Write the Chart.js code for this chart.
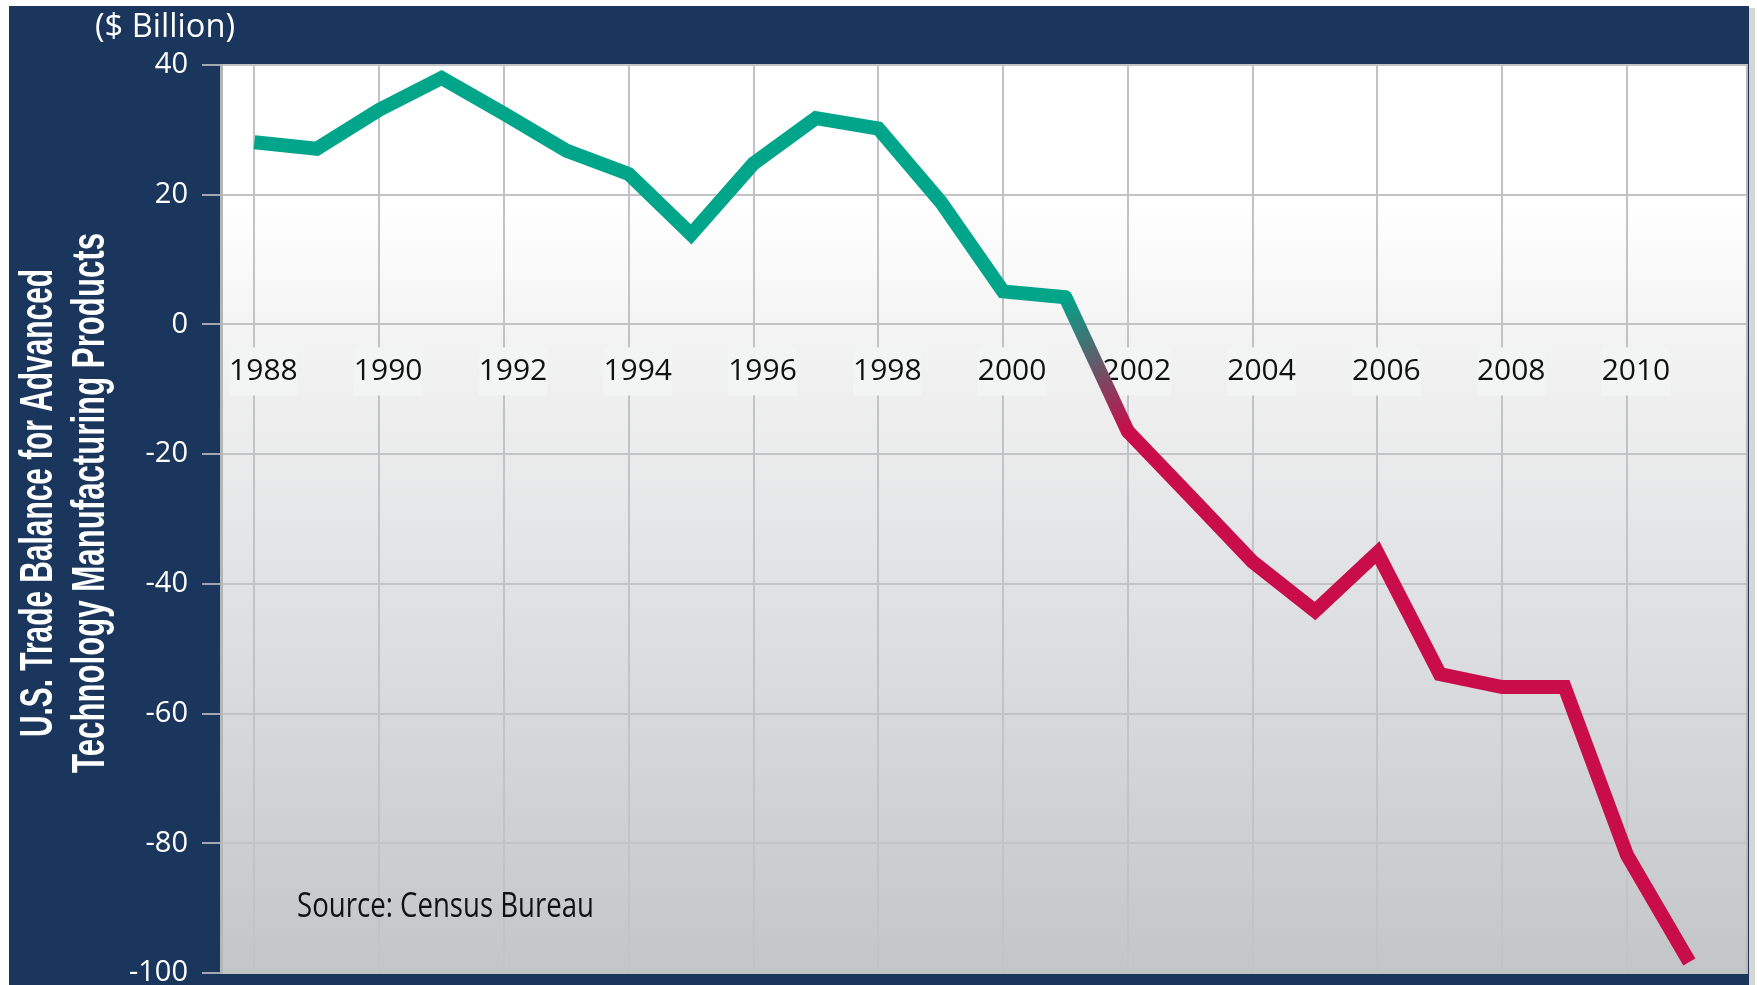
<!DOCTYPE html>
<html>
<head>
<meta charset="utf-8">
<script src="https://cdn.jsdelivr.net/npm/chart.js@4"></script>
<style>
  html, body { margin: 0; padding: 0; background: #ffffff; }
  #wrap { width: 1757px; height: 985px; position: relative; }
</style>
</head>
<body>
<div id="wrap"><canvas id="chart"></canvas></div>
<script>
// Data
const years = [1988, 1989, 1990, 1991, 1992, 1993, 1994, 1995, 1996, 1997, 1998, 1999,
               2000, 2001, 2002, 2003, 2004, 2005, 2006, 2007, 2008, 2009, 2010, 2011];
const balance = [28.1, 27.1, 33.1, 38.0, 32.5, 26.8, 23.2, 13.9, 24.8, 31.8, 30.2, 18.9,
                 5.1, 4.2, -16.5, -26.5, -36.6, -44.2, -35.2, -53.9, -55.9, -55.9, -81.8, -98.3];
const yearTicks = [1988, 1990, 1992, 1994, 1996, 1998, 2000, 2002, 2004, 2006, 2008, 2010];
const valueTicks = [40, 20, 0, -20, -40, -60, -80, -100];

const axisTitle = ['U.S. Trade Balance for Advanced', 'Technology Manufacturing Products'];
const unitLabel = '($ Billion)';
const sourceNote = 'Source: Census Bureau';

const NAVY = '#1a365d';
const TEAL = '#00a58a';
const CRIMSON = '#c80d4a';
const GRID = '#c2c3c5';

// is this segment the one crossing zero?
const crossesZero = ctx => (ctx.p0.parsed.y >= 0) !== (ctx.p1.parsed.y >= 0);

// background frame, plot gradient and the loose texts
const framePlugin = {
  id: 'frame',
  beforeDraw(chart) {
    const { ctx, chartArea: a } = chart;
    ctx.save();
    ctx.fillStyle = '#ffffff';
    ctx.fillRect(0, 0, chart.width, chart.height);
    ctx.fillStyle = '#d6d6d6';
    ctx.fillRect(a.right + 1, 8, 6, chart.height);
    ctx.fillStyle = NAVY;
    ctx.fillRect(9, 6, a.right + 1 - 9, chart.height - 6);

    const g = ctx.createLinearGradient(0, a.top, 0, a.bottom);
    g.addColorStop(0, '#ffffff');
    g.addColorStop(0.15, '#ffffff');
    g.addColorStop(0.3, '#f3f3f3');
    g.addColorStop(0.65, '#dcdddf');
    g.addColorStop(1, '#c4c5c7');
    ctx.fillStyle = g;
    ctx.fillRect(a.left, a.top, a.width, a.height);
    ctx.restore();
  },
  beforeDatasetsDraw(chart) {
    const { ctx, chartArea: a } = chart;
    ctx.save();
    ctx.strokeStyle = '#b8b9bb';
    ctx.lineWidth = 2;
    ctx.beginPath();
    ctx.moveTo(a.right - 1, a.top);
    ctx.lineTo(a.right - 1, a.bottom);
    ctx.stroke();
    ctx.restore();
  },
  afterDraw(chart) {
    const { ctx } = chart;
    ctx.save();
    // rotated axis title
    ctx.fillStyle = '#ffffff';
    ctx.font = 'bold 46px "Liberation Sans Narrow", "Liberation Sans", sans-serif';
    ctx.textAlign = 'center';
    ctx.textBaseline = 'alphabetic';
    ctx.translate(52, 503);
    ctx.rotate(-Math.PI / 2);
    ctx.fillText(axisTitle[0], 0, 0, 468);
    ctx.fillText(axisTitle[1], 0, 52, 540);
    ctx.restore();

    ctx.save();
    ctx.fillStyle = '#ffffff';
    ctx.font = '33px "Open Sans", sans-serif';
    ctx.textAlign = 'left';
    ctx.textBaseline = 'alphabetic';
    ctx.fillText(unitLabel, 95, 37, 140);

    ctx.fillStyle = '#111111';
    ctx.font = '35px "Open Sans", sans-serif';
    ctx.fillText(sourceNote, 297, 917, 297);
    ctx.restore();
  }
};

new Chart(document.getElementById('chart'), {
  type: 'line',
  data: {
    datasets: [{
      label: 'Trade balance',
      data: years.map((yr, i) => ({ x: yr, y: balance[i] })),
      borderWidth: 14,
      borderColor: TEAL,
      borderJoinStyle: 'miter',
      borderCapStyle: 'butt',
      tension: 0,
      pointRadius: 0,
      fill: false,
      segment: {
        borderColor: ctx => {
          if (!crossesZero(ctx)) return ctx.p0.parsed.y >= 0 ? TEAL : CRIMSON;
          const g = ctx.chart.ctx.createLinearGradient(ctx.p0.x, ctx.p0.y, ctx.p1.x, ctx.p1.y);
          g.addColorStop(0, TEAL);
          g.addColorStop(1, CRIMSON);
          return g;
        },
        // round ends on the blended piece hide the notches where it meets the others
        borderCapStyle: ctx => (crossesZero(ctx) ? 'round' : 'butt')
      }
    }]
  },
  options: {
    responsive: true,
    maintainAspectRatio: false,
    animation: false,
    layout: { padding: { left: 0, top: 65, right: 9, bottom: 12 } },
    plugins: {
      legend: { display: false },
      tooltip: { enabled: false }
    },
    scales: {
      x: {
        type: 'linear',
        position: { y: 0 },
        min: 1987.465,
        max: 2011.94,
        afterBuildTicks: scale => {
          scale.ticks = yearTicks.map(v => ({ value: v }));
        },
        afterFit: scale => {
          scale.paddingLeft = 0;
          scale.paddingRight = 0;
        },
        grid: { color: GRID, lineWidth: 2, drawTicks: false },
        border: { display: false },
        ticks: {
          color: '#111111',
          font: { family: '"Open Sans", sans-serif', size: 30 },
          padding: 29,
          labelOffset: 9,
          maxRotation: 0,
          autoSkip: false,
          showLabelBackdrop: true,
          backdropColor: '#f3f4f4',
          backdropPadding: { top: 6, bottom: 6, left: 0, right: 0 },
          callback: v => String(v)
        }
      },
      y: {
        min: -100,
        max: 40,
        afterBuildTicks: scale => {
          scale.ticks = valueTicks.map(v => ({ value: v }));
        },
        afterFit: scale => {
          scale.width = 221;
          scale.paddingTop = 0;
          scale.paddingBottom = 0;
        },
        grid: { color: GRID, lineWidth: 2, tickLength: 19, tickColor: '#a3a7ad' },
        border: { display: true, color: '#b5b6b8', width: 3 },
        ticks: {
          color: '#ffffff',
          font: { family: '"Open Sans", sans-serif', size: 29 },
          padding: 14
        }
      }
    }
  },
  plugins: [framePlugin]
});
</script>
</body>
</html>
